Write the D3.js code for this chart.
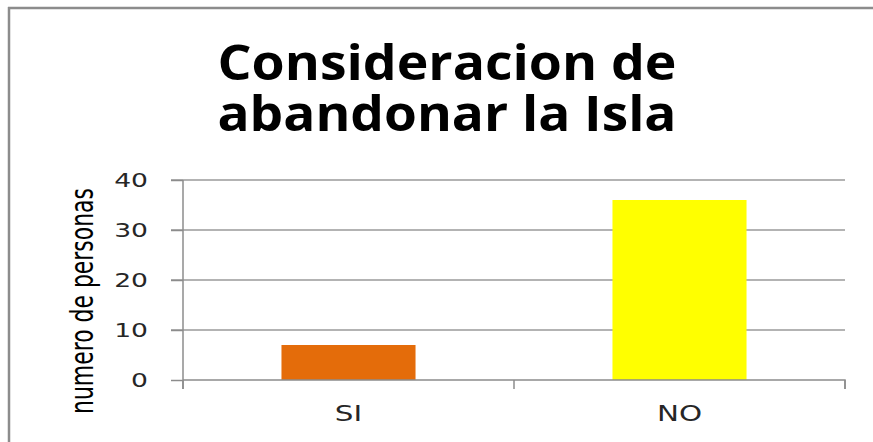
<!DOCTYPE html>
<html>
<head>
<meta charset="utf-8">
<script src="https://cdn.jsdelivr.net/npm/d3@7"></script>
<style>
  html, body { margin: 0; padding: 0; background: #fff; overflow: hidden; }
  svg { display: block; }
</style>
</head>
<body>
<div id="chart"></div>
<script>
// chart data
var categories = ["SI", "NO"];
var values = [7, 36];
var barColors = ["#E46C0A", "#FFFF00"];
var yTicks = [0, 10, 20, 30, 40];
var titleLines = ["Consideracion de", "abandonar la Isla"];
var yLabel = "numero de personas";

var width = 873, height = 442;
var margin = {top: 180, right: 28, bottom: 62, left: 183};
var stretch = 1.4; // picture is stretched sideways

var svg = d3.select("#chart")
  .append("svg")
    .attr("width", width)
    .attr("height", height);

// outer frame: left and top edges
svg.append("line")
    .attr("x1", 9).attr("y1", 7).attr("x2", 9).attr("y2", height)
    .style("stroke", "#8c8c8c").style("stroke-width", 2.5);
svg.append("line")
    .attr("x1", 8).attr("y1", 8).attr("x2", width).attr("y2", 8)
    .style("stroke", "#8c8c8c").style("stroke-width", 2.5);

var x = d3.scaleBand()
    .domain(categories)
    .range([margin.left, width - margin.right])
    .paddingInner(0.595)
    .paddingOuter(0.2975);

var y = d3.scaleLinear()
    .domain([0, 40])
    .range([height - margin.bottom, margin.top]);

// gridlines
svg.append("g")
  .selectAll("line")
  .data(yTicks.slice(1))
  .enter()
  .append("line")
    .attr("x1", margin.left - 12)
    .attr("x2", width - margin.right)
    .attr("y1", function(d) { return y(d); })
    .attr("y2", function(d) { return y(d); })
    .style("stroke", "#9a9a9a")
    .style("stroke-width", 1.5);

// bars
svg.append("g")
  .selectAll("rect")
  .data(values)
  .enter()
  .append("rect")
    .attr("x", function(d, i) { return x(categories[i]); })
    .attr("width", x.bandwidth())
    .attr("y", function(d) { return y(d); })
    .attr("height", function(d) { return y(0) - y(d); })
    .style("fill", function(d, i) { return barColors[i]; });

// y axis
var yAxis = svg.append("g")
    .attr("transform", "translate(" + margin.left + ",0)")
    .call(d3.axisLeft(y).tickValues(yTicks).tickSize(12).tickSizeOuter(0).tickPadding(23));
yAxis.select(".domain").style("stroke", "#8c8c8c").style("stroke-width", 1.5)
    .attr("d", "M0," + y(40) + "V" + (y(0) + 9));
yAxis.selectAll(".tick line").style("stroke", "#8c8c8c").style("stroke-width", 1.5);
yAxis.selectAll("text")
    .attr("x", -35 / stretch)
    .attr("transform", "scale(" + stretch + ",1)")
    .style("font-family", "'DejaVu Sans', Verdana, sans-serif")
    .style("font-size", "19px")
    .style("fill", "#262626");

// x axis
var xAxis = svg.append("g")
    .attr("transform", "translate(0," + y(0) + ")")
    .call(d3.axisBottom(x).tickSize(0).tickPadding(26));
xAxis.select(".domain").style("stroke", "#8c8c8c").style("stroke-width", 1.5)
    .attr("d", "M" + margin.left + ",0H" + (width - margin.right) + "V9");
// separators between categories
var edges = [margin.left, (margin.left + width - margin.right) / 2, width - margin.right];
xAxis.selectAll("line.sep")
  .data(edges)
  .enter()
  .append("line")
    .attr("class", "sep")
    .attr("x1", function(d) { return d; })
    .attr("x2", function(d) { return d; })
    .attr("y1", 0).attr("y2", 9)
    .style("stroke", "#8c8c8c")
    .style("stroke-width", 1.5);
xAxis.selectAll(".tick text")
    .attr("transform", "scale(" + stretch + ",1)")
    .style("font-family", "'DejaVu Sans', Verdana, sans-serif")
    .style("font-size", "21px")
    .style("fill", "#262626");

// title
svg.append("g")
  .selectAll("text")
  .data(titleLines)
  .enter()
  .append("text")
    .attr("x", 447)
    .attr("y", function(d, i) { return 80 + i * 51; })
    .attr("text-anchor", "middle")
    .attr("textLength", 459)
    .attr("lengthAdjust", "spacingAndGlyphs")
    .style("font-family", "'Open Sans', 'DejaVu Sans', sans-serif")
    .style("font-weight", "bold")
    .style("font-size", "48px")
    .style("fill", "#000")
    .text(function(d) { return d; });

// y axis label
svg.append("text")
    .attr("transform", "translate(93,301) rotate(-90) scale(1,1.3)")
    .attr("text-anchor", "middle")
    .attr("textLength", 226)
    .attr("lengthAdjust", "spacingAndGlyphs")
    .style("font-family", "'Liberation Sans Narrow', 'DejaVu Sans Condensed', sans-serif")
    .style("font-size", "24px")
    .style("fill", "#000")
    .text(yLabel);
</script>
</body>
</html>
